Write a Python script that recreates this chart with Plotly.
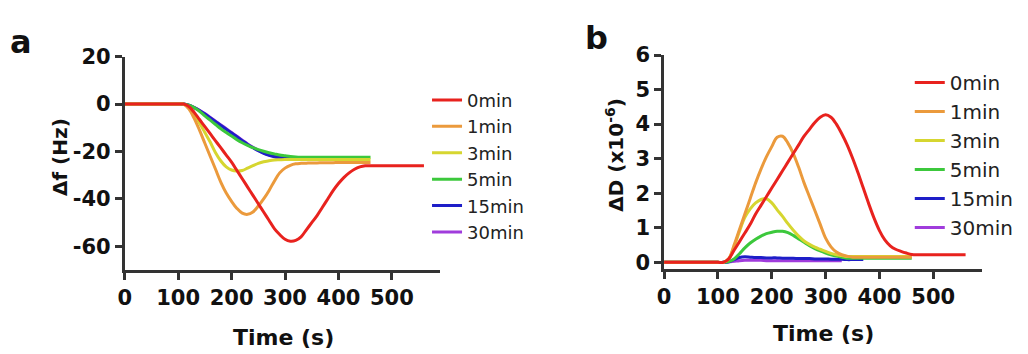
import plotly.graph_objects as go

# ---------------- data ----------------
TIME = list(range(0, 570, 10))  # seconds, sampling grid
LABELS = ["0min", "1min", "3min", "5min", "15min", "30min"]
COLORS = ["#e8221e", "#eb9a3c", "#d6d630", "#3cc83c", "#1e1ec8", "#a03cdc"]

# panel a: frequency shift (Hz)
df_0min = [0, 0, 0, 0, 0, 0, 0, 0, 0, 0, 0, 0,
           -1, -3.5, -6.5, -9.5, -12.5, -15.5, -18.5, -21.5, -24.5, -28, -31.5, -35, -38.5, -42,
           -45.5, -49, -52.5, -55, -57, -57.8, -57.5, -56, -53, -50, -47, -43.5, -40, -36.5,
           -33.5, -31, -29, -27.5, -26.5, -26, -26, -26, -26, -26, -26, -26, -26, -26, -26, -26, -26]
df_1min = [0, 0, 0, 0, 0, 0, 0, 0, 0, 0, 0, 0,
           -2, -6, -11, -16.5, -22, -27.5, -33, -37.5, -41, -44, -46, -46.5, -45.5, -43, -40,
           -36.5, -32.5, -29, -27, -25.8, -25.2, -25, -24.9, -24.8, -24.8, -24.7, -24.7, -24.7,
           -24.6, -24.6, -24.6, -24.6, -24.6, -24.6, -24.6]
df_3min = [0, 0, 0, 0, 0, 0, 0, 0, 0, 0, 0, 0,
           -1.5, -4.5, -8, -12, -16, -20.5, -24, -26.5, -27.8, -28.2, -28, -27, -26, -25, -24.3,
           -23.9, -23.6, -23.5, -23.4, -23.4, -23.4, -23.4, -23.4, -23.4, -23.4, -23.4, -23.4,
           -23.4, -23.4, -23.4, -23.4, -23.4, -23.4, -23.4, -23.4]
df_5min = [0, 0, 0, 0, 0, 0, 0, 0, 0, 0, 0, 0,
           -0.5, -1.5, -3, -5, -6.8, -8.6, -10.4, -12, -13.5, -15, -16.3, -17.4, -18.4, -19.2,
           -19.9, -20.5, -21, -21.5, -21.8, -22.1, -22.3, -22.4, -22.4, -22.4, -22.4, -22.4,
           -22.4, -22.4, -22.4, -22.4, -22.4, -22.4, -22.4, -22.4, -22.4]
df_15min = [0, 0, 0, 0, 0, 0, 0, 0, 0, 0, 0, 0,
            -0.5, -1.5, -2.7, -4.2, -5.8, -7.4, -9, -10.6, -12.2, -13.8, -15.4, -17, -18.4,
            -19.7, -20.8, -21.6, -22.2, -22.6, -22.9, -23.1, -23.2, -23.2, -23.2, -23.2, -23.2,
            -23.2, -23.2, -23.2, -23.2, -23.2, -23.2, -23.2, -23.2]
df_30min = [0, 0, 0, 0, 0, 0, 0, 0, 0, 0, 0, 0,
            -0.5, -1.4, -2.6, -4, -5.6, -7.2, -8.8, -10.4, -12, -13.6, -15.2, -16.8, -18.2,
            -19.5, -20.6, -21.4, -22, -22.4, -22.7, -22.9, -23, -23, -23, -23, -23, -23, -23,
            -23, -23, -23, -23]

# panel b: dissipation shift (x1e-6)
dd_0min = [0, 0, 0, 0, 0, 0, 0, 0, 0, 0, 0, 0,
           0.1, 0.35, 0.6, 0.85, 1.1, 1.4, 1.65, 1.9, 2.15, 2.4, 2.65, 2.9, 3.15, 3.4, 3.65,
           3.85, 4.05, 4.2, 4.27, 4.2, 4.0, 3.72, 3.4, 3.02, 2.6, 2.15, 1.7, 1.28, 0.92, 0.65,
           0.48, 0.38, 0.32, 0.27, 0.23, 0.22, 0.22, 0.22, 0.22, 0.22, 0.22, 0.22, 0.22, 0.22, 0.22]
dd_1min = [0, 0, 0, 0, 0, 0, 0, 0, 0, 0, 0, 0,
           0.1, 0.5, 0.95, 1.4, 1.85, 2.3, 2.7, 3.05, 3.35, 3.62, 3.65, 3.45, 3.15, 2.75, 2.3,
           1.9, 1.5, 1.1, 0.7, 0.45, 0.3, 0.22, 0.18, 0.15, 0.15, 0.15, 0.15, 0.15, 0.15, 0.15,
           0.15, 0.15, 0.15, 0.15, 0.15]
dd_3min = [0, 0, 0, 0, 0, 0, 0, 0, 0, 0, 0, 0,
           0.1, 0.45, 0.9, 1.3, 1.55, 1.72, 1.82, 1.84, 1.72, 1.52, 1.33, 1.12, 0.93, 0.76,
           0.62, 0.52, 0.44, 0.38, 0.32, 0.26, 0.22, 0.2, 0.17, 0.17, 0.17, 0.17, 0.17, 0.17,
           0.17, 0.17, 0.17, 0.17, 0.17, 0.17, 0.17]
dd_5min = [0, 0, 0, 0, 0, 0, 0, 0, 0, 0, 0, 0,
           0.02, 0.1, 0.25, 0.42, 0.56, 0.67, 0.76, 0.83, 0.87, 0.9, 0.9, 0.86, 0.78, 0.68,
           0.58, 0.48, 0.4, 0.33, 0.27, 0.22, 0.18, 0.15, 0.12, 0.12, 0.12, 0.12, 0.12, 0.12,
           0.12, 0.12, 0.12, 0.12, 0.12, 0.12, 0.12]
dd_15min = [0, 0, 0, 0, 0, 0, 0, 0, 0, 0, 0, 0,
            0.02, 0.08, 0.14, 0.16, 0.15, 0.14, 0.14, 0.13, 0.13, 0.13, 0.12, 0.12, 0.12, 0.11,
            0.11, 0.11, 0.1, 0.1, 0.1, 0.09, 0.09, 0.09, 0.08, 0.08, 0.08, 0.08]
dd_30min = [0, 0, 0, 0, 0, 0, 0, 0, 0, 0, 0, 0,
            0.01, 0.03, 0.05, 0.06, 0.06, 0.06, 0.06, 0.05, 0.05, 0.05, 0.05, 0.05, 0.05,
            0.05, 0.05, 0.05, 0.05, 0.05, 0.05, 0.05, 0.05, 0.05]

DF = [df_0min, df_1min, df_3min, df_5min, df_15min, df_30min]
DD = [dd_0min, dd_1min, dd_3min, dd_5min, dd_15min, dd_30min]

X_TICKS = [0, 100, 200, 300, 400, 500]
YA_TICKS = [20, 0, -20, -40, -60]
YA_TEXT = ["20", "0", "-20", "-40", "-60"]
YB_TICKS = [0, 1, 2, 3, 4, 5, 6]

# ---------------- figure ----------------
fig = go.Figure()
# draw long-incubation curves first so 0min ends on top
for i in reversed(range(len(LABELS))):
    fig.add_trace(go.Scatter(x=TIME[:len(DF[i])], y=DF[i], mode="lines", name=LABELS[i],
                             line=dict(color=COLORS[i], width=3, shape="spline", smoothing=1),
                             xaxis="x", yaxis="y", legend="legend"))
for i in reversed(range(len(LABELS))):
    fig.add_trace(go.Scatter(x=TIME[:len(DD[i])], y=DD[i], mode="lines", name=LABELS[i],
                             line=dict(color=COLORS[i], width=3, shape="spline", smoothing=1),
                             xaxis="x2", yaxis="y2", legend="legend2"))

tickfont = dict(family="DejaVu Sans", size=21, color="#111", weight="bold")
axis_common = dict(showline=True, linewidth=2.5, linecolor="#333", ticks="outside",
                   ticklen=7, tickwidth=2.5, tickcolor="#333", showgrid=False,
                   zeroline=False, tickfont=tickfont)

fig.update_layout(
    width=1028, height=354, margin=dict(l=0, r=0, t=0, b=0, autoexpand=False),
    paper_bgcolor="white", plot_bgcolor="white",
    xaxis=dict(domain=[0.1213, 0.428], range=[0, 590], tickvals=X_TICKS, anchor="y", **axis_common),
    yaxis=dict(domain=[0.237, 0.840], range=[-70, 20], tickvals=YA_TICKS, ticktext=YA_TEXT,
               anchor="x", **axis_common),
    xaxis2=dict(domain=[0.646, 0.955], range=[0, 590], tickvals=X_TICKS, anchor="y2", **axis_common),
    yaxis2=dict(domain=[0.2393, 0.8446], range=[-0.2, 6], tickvals=YB_TICKS, anchor="x2",
                **axis_common),
    legend=dict(x=0.4154, y=0.769, xanchor="left", yanchor="top", traceorder="reversed",
                font=dict(family="DejaVu Sans", size=18, color="#222"),
                bgcolor="rgba(0,0,0,0)", itemwidth=30),
    legend2=dict(x=0.885, y=0.822, xanchor="left", yanchor="top", traceorder="reversed",
                 font=dict(family="DejaVu Sans", size=20, color="#222"),
                 bgcolor="rgba(0,0,0,0)", itemwidth=30),
    showlegend=True,
)

bold = dict(family="DejaVu Sans", color="#111", weight="bold")
fig.add_annotation(text="a", x=0.0205, y=0.88, xref="paper", yref="paper", showarrow=False,
                   font=dict(size=32, **bold), xanchor="center", yanchor="middle")
fig.add_annotation(text="b", x=0.5798, y=0.893, xref="paper", yref="paper", showarrow=False,
                   font=dict(size=32, **bold), xanchor="center", yanchor="middle")
fig.add_annotation(text="Δf (Hz)", x=0.0584, y=0.5565, xref="paper", yref="paper",
                   showarrow=False, textangle=-90, font=dict(size=20, **bold),
                   xanchor="center", yanchor="middle")
fig.add_annotation(text="ΔD (x10<sup>-6</sup>)", x=0.598, y=0.562, xref="paper", yref="paper",
                   showarrow=False, textangle=-90, font=dict(size=20, **bold),
                   xanchor="center", yanchor="middle")
fig.add_annotation(text="Time (s)", x=0.2753, y=0.048, xref="paper", yref="paper",
                   showarrow=False, font=dict(size=22, **bold), xanchor="center", yanchor="middle")
fig.add_annotation(text="Time (s)", x=0.8006, y=0.0593, xref="paper", yref="paper",
                   showarrow=False, font=dict(size=22, **bold), xanchor="center", yanchor="middle")

fig.write_html("out.html", config={"displayModeBar": False},
               post_script="document.body.style.margin='0';")
